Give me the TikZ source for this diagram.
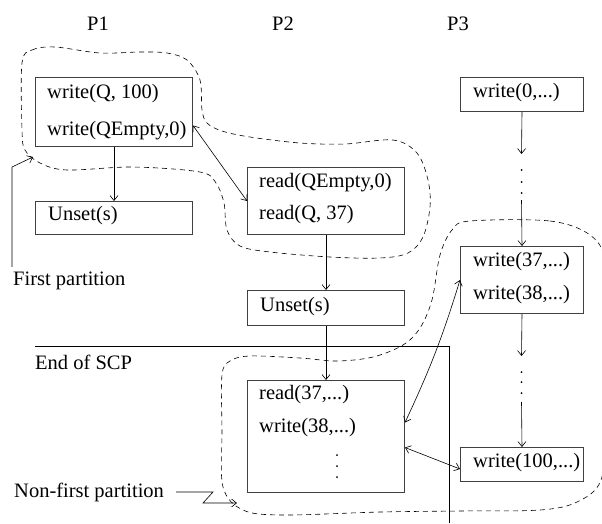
\documentclass[tikz,border=0pt]{standalone}
\usepackage{fontspec}
\setmainfont{Liberation Serif}
\usetikzlibrary{arrows.meta}
\begin{document}
\begin{tikzpicture}[x=1pt,y=-1pt,
  every node/.style={font=\fontsize{20.5}{24}\selectfont},
  box/.style={draw=black!75,line width=1pt,anchor=north west,inner sep=0pt},
  lbl/.style={anchor=west,inner sep=0pt},
  conn/.style={line width=0.6pt},
  arr/.style={conn,-{Straight Barb[length=5pt,width=8pt]}},
  dbl/.style={conn,{Straight Barb[length=5pt,width=8pt]}-{Straight Barb[length=5pt,width=8pt]}},
  part/.style={line width=0.6pt,dash pattern=on 5pt off 4pt},
  dotc/.style={fill=black,draw=none}]
\clip (0,0) rectangle (602,523);
% column headers
\node (P1) at (98,24) {P1};
\node (P2) at (283,24) {P2};
\node (P3) at (458,24) {P3};
% boxes
\node[box,minimum width=157pt,minimum height=69pt] (A) at (35,77) {};
\node[box,minimum width=157pt,minimum height=33pt] (U1) at (35,201) {};
\node[box,minimum width=157pt,minimum height=67pt] (B) at (247,167) {};
\node[box,minimum width=157pt,minimum height=35pt] (U2) at (247,290) {};
\node[box,minimum width=157pt,minimum height=112pt] (C) at (247,380) {};
\node[box,minimum width=123pt,minimum height=34pt] (W0) at (460,77) {};
\node[box,minimum width=123pt,minimum height=67pt] (W37) at (460,246) {};
\node[box,minimum width=123pt,minimum height=34pt] (W100) at (460,447) {};
% texts
\node[lbl] (a1) at (47,94) {write(Q, 100)};
\node[lbl] (a2) at (47,131) {write(QEmpty,0)};
\node[lbl] (u1) at (48,216) {Unset(s)};
\node[lbl] (b1) at (259,183) {read(QEmpty,0)};
\node[lbl] (b2) at (259,215) {read(Q, 37)};
\node[lbl] (u2) at (260,307) {Unset(s)};
\node[lbl] (c1) at (259,395) {read(37,...)};
\node[lbl] (c2) at (259,428) {write(38,...)};
\node[lbl] (w0) at (473,93) {write(0,...)};
\node[lbl] (w37) at (473,262) {write(37,...)};
\node[lbl] (w38) at (473,295) {write(38,...)};
\node[lbl] (w100) at (473,463) {write(100,...)};
\node[lbl] (FP) at (13,281) {First partition};
\node[lbl] (EoS) at (35,362) {End of SCP};
\node[lbl] (NF) at (14,492) {Non-first partition};
% dots
\foreach \yy in {455,466,477} \fill[dotc] (337,\yy) circle (1pt);
\foreach \yy in {170,182,193} \fill[dotc] (521.5,\yy) circle (1pt);
\foreach \yy in {372,382,393} \fill[dotc] (521.5,\yy) circle (1pt);
% coordinates
\coordinate (d1) at (521.5,154);
\coordinate (d2) at (521.5,200);
\coordinate (d3) at (521.5,356);
\coordinate (d4) at (521.5,402);
\coordinate (fp1) at (12,167);
\coordinate (fpt) at (33,157);
\coordinate (nf1) at (213,492);
\coordinate (nf2) at (203,503);
\coordinate (nft) at (237,503);
% connectors
\draw[arr] (A.south) -- (U1.north);
\draw[arr] (B.south) -- (U2.north);
\draw[arr] (U2.south) -- (C.north);
\draw[arr] (W0.south) -- (d1);
\draw[arr] (d2) -- (W37.north);
\draw[arr] (W37.south) -- (d3);
\draw[arr] (d4) -- (W100.north);
\draw[dbl] ([yshift=-13.5pt]A.east) -- (B.west);
\draw[dbl] ([yshift=14pt]C.east) to[bend right=4] (W37.west);
\draw[dbl] ([yshift=-11pt]C.east) -- ([yshift=-4.5pt]W100.west);
\draw[arr] ([xshift=-1pt,yshift=5pt]FP.north west) -- (fp1) -- (fpt);
\draw[arr] ([xshift=12pt]NF.east) -- (nf1) -- (nf2) -- (nft);
% end of SCP line
\draw[line width=0.7pt] (35,346) -- (449,346) -- (449,523);
% partitions
\draw[part] plot[smooth cycle,tension=0.55] coordinates {
 (22,63) (32,50) (55,47) (100,53) (140,52) (167,53) (187,60) (200,80)
 (202,110) (207,123) (222,131) (250,137) (300,143) (345,144) (393,140)
 (417,153) (428,180) (430,207) (423,237) (408,253) (380,258) (330,257)
 (270,252) (240,246) (227,230) (224,203) (216,183) (200,172) (133,167)
 (67,170) (40,163) (25,150) (22,130)};
\draw[part] plot[smooth cycle,tension=0.55] coordinates {
 (470,221) (550,221) (590,235) (605,262) (607,340) (607,420) (601,480)
 (577,502) (540,510) (460,511) (380,512) (283,515) (243,510) (223,487)
 (222,430) (222,375) (230,361) (250,356) (300,358) (337,361) (373,357)
 (403,345) (420,328) (432,300) (440,255) (452,230)};
\end{tikzpicture}
\end{document}
